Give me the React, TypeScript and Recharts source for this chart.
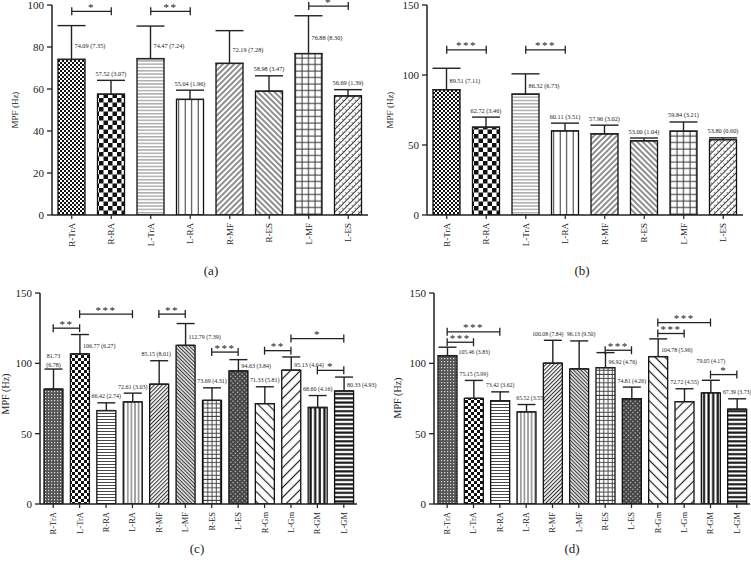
import React from "react";
import { BarChart, Bar, XAxis, YAxis, ErrorBar, Cell, LabelList, ReferenceLine } from "recharts";

const FONT = '"Liberation Serif", "Times New Roman", serif';
const INK = "#222";

// panels (a) and (b)
const musclesAB = ["R-TrA", "R-RA", "L-TrA", "L-RA", "R-MF", "R-ES", "L-MF", "L-ES"];
const meanA = [74.09, 57.52, 74.47, 55.04, 72.19, 58.98, 76.88, 56.69];
const sdA = [7.35, 3.07, 7.24, 1.96, 7.28, 3.47, 8.3, 1.39];
const whiskerA = [16.1, 6.6, 15.5, 4.4, 15.6, 7.3, 18.0, 3.0];
const meanB = [89.51, 62.72, 86.32, 60.11, 57.96, 53.0, 59.84, 53.8];
const sdB = [7.11, 3.46, 6.73, 3.51, 3.02, 1.04, 3.21, 0.6];
const whiskerB = [15.3, 7.2, 14.5, 5.5, 6.2, 2.0, 6.6, 1.3];

// panels (c) and (d)
const musclesCD = ["R-TrA", "L-TrA", "R-RA", "L-RA", "R-MF", "L-MF", "R-ES", "L-ES", "R-Gm", "L-Gm", "R-GM", "L-GM"];
const meanC = [81.73, 106.77, 66.42, 72.61, 85.15, 112.79, 73.69, 94.63, 71.33, 95.13, 68.6, 80.33];
const sdC = [6.78, 6.27, 2.74, 3.03, 8.01, 7.39, 4.31, 3.84, 5.81, 4.64, 4.16, 4.93];
const whiskerC = [14.2, 13.7, 5.5, 6.2, 16.7, 15.5, 8.9, 8.0, 12.0, 9.4, 8.5, 9.9];
const meanD = [105.46, 75.15, 73.42, 65.52, 100.08, 96.13, 96.92, 74.81, 104.78, 72.72, 79.05, 67.39];
const sdD = [3.83, 5.99, 3.62, 3.55, 7.84, 9.5, 4.76, 4.26, 5.96, 4.55, 4.17, 3.73];
const whiskerD = [6.0, 12.7, 6.3, 5.2, 16.3, 19.8, 10.7, 8.3, 12.6, 9.2, 8.9, 7.4];

const ticksA = [0, 20, 40, 60, 80, 100];
const ticks150 = [0, 50, 100, 150];

// significance brackets: [from, to, level, stars]
const sigA: [string, string, number, string][] = [
  ["R-TrA", "R-RA", 97, "*"],
  ["L-TrA", "L-RA", 97, "**"],
  ["L-MF", "L-ES", 99.5, "*"],
];
const sigB: [string, string, number, string][] = [
  ["R-TrA", "R-RA", 118, "***"],
  ["L-TrA", "L-RA", 118, "***"],
];
const sigC: [string, string, number, string][] = [
  ["R-TrA", "L-TrA", 125, "**"],
  ["L-TrA", "L-RA", 135, "***"],
  ["R-MF", "L-MF", 135, "**"],
  ["R-ES", "L-ES", 108, "***"],
  ["R-Gm", "L-Gm", 109, "**"],
  ["L-Gm", "L-GM", 117.6, "*"],
  ["R-GM", "L-GM", 95, "*"],
];
const sigD: [string, string, number, string][] = [
  ["R-TrA", "L-TrA", 115, "***"],
  ["R-TrA", "R-RA", 122.4, "***"],
  ["R-ES", "L-ES", 109.3, "***"],
  ["R-Gm", "L-Gm", 121.2, "***"],
  ["R-Gm", "R-GM", 129, "***"],
  ["R-GM", "L-GM", 92, "*"],
];

// where the "mean (sd)" text sits: r = right of whisker, t = above (optional x nudge),
// w = above on two lines, u = high above (clear of a bracket)
const sideA = ["r", "t", "r", "t", "r", "t", "r", "t"];
const sideB = ["r", "t", "r", "t", "t", "t", "t", "t"];
const sideC = ["w", "r", "t", "t", "t-3", "r", "t", "r", "t", "r", "t", "r"];
const sideD = ["r+8", "t", "t", "t+4", "t-5", "t+2", "r", "t", "r", "t", "u", "t"];

const fillsAB = ["fineCheck", "bigCheck", "hLines", "vLines", "diagR", "diagL", "grid", "zig"];
const fillsCD = ["fineCheck", "check", "hLines", "vLines", "diagR", "diagL", "grid", "zig", "sparseL", "sparseR", "thickV", "thickH"];

const makeRows = (names: string[], means: number[], sds: number[], whiskers: number[]) =>
  names.map((name, i) => ({ name, mean: means[i], sd: sds[i], err: [0, whiskers[i]] }));

const bg = (w: number, h: number) => <rect width={w} height={h} fill="#fff" />;

const DefsAB = ({ p }: { p: string }) => (
  <defs>
    <pattern id={`${p}-fineCheck`} width={4} height={4} patternUnits="userSpaceOnUse">
      {bg(4, 4)}
      <rect width={2} height={2} fill="#111" />
      <rect x={2} y={2} width={2} height={2} fill="#111" />
    </pattern>
    <pattern id={`${p}-bigCheck`} width={9} height={9} patternUnits="userSpaceOnUse">
      {bg(9, 9)}
      <rect width={4.5} height={4.5} fill="#111" />
      <rect x={4.5} y={4.5} width={4.5} height={4.5} fill="#111" />
    </pattern>
    <pattern id={`${p}-hLines`} width={6} height={3.3} patternUnits="userSpaceOnUse">
      {bg(6, 3.3)}
      <line x1={0} y1={1.6} x2={6} y2={1.6} stroke="#777" strokeWidth={0.9} />
    </pattern>
    <pattern id={`${p}-vLines`} width={6.5} height={6} patternUnits="userSpaceOnUse">
      {bg(6.5, 6)}
      <line x1={3.2} y1={0} x2={3.2} y2={6} stroke="#333" strokeWidth={1} />
    </pattern>
    <pattern id={`${p}-diagR`} width={4} height={4} patternUnits="userSpaceOnUse" patternTransform="rotate(45)">
      {bg(4, 4)}
      <line x1={2} y1={0} x2={2} y2={4} stroke="#333" strokeWidth={1.1} />
    </pattern>
    <pattern id={`${p}-diagL`} width={4} height={4} patternUnits="userSpaceOnUse" patternTransform="rotate(-45)">
      {bg(4, 4)}
      <line x1={2} y1={0} x2={2} y2={4} stroke="#333" strokeWidth={1.1} />
    </pattern>
    <pattern id={`${p}-grid`} width={6.5} height={6.5} patternUnits="userSpaceOnUse">
      {bg(6.5, 6.5)}
      <line x1={3} y1={0} x2={3} y2={6.5} stroke="#333" strokeWidth={1} />
      <line x1={0} y1={3} x2={6.5} y2={3} stroke="#333" strokeWidth={1} />
    </pattern>
    <pattern id={`${p}-zig`} width={4.5} height={4.5} patternUnits="userSpaceOnUse" patternTransform="rotate(45)">
      {bg(4.5, 4.5)}
      <line x1={2.2} y1={0} x2={2.2} y2={4.5} stroke="#333" strokeWidth={1} />
      <line x1={0} y1={2.2} x2={2.2} y2={2.2} stroke="#666" strokeWidth={0.8} />
    </pattern>
  </defs>
);

const DefsCD = ({ p }: { p: string }) => (
  <defs>
    <pattern id={`${p}-fineCheck`} width={3} height={3} patternUnits="userSpaceOnUse">
      <rect width={3} height={3} fill="#555" />
      <rect width={1.2} height={1.2} fill="#ddd" />
    </pattern>
    <pattern id={`${p}-check`} width={6} height={6} patternUnits="userSpaceOnUse">
      {bg(6, 6)}
      <rect width={3} height={3} fill="#111" />
      <rect x={3} y={3} width={3} height={3} fill="#111" />
    </pattern>
    <pattern id={`${p}-hLines`} width={6} height={3} patternUnits="userSpaceOnUse">
      {bg(6, 3)}
      <line x1={0} y1={1.5} x2={6} y2={1.5} stroke="#333" strokeWidth={0.9} />
    </pattern>
    <pattern id={`${p}-vLines`} width={3.6} height={6} patternUnits="userSpaceOnUse">
      {bg(3.6, 6)}
      <line x1={1.8} y1={0} x2={1.8} y2={6} stroke="#333" strokeWidth={0.9} />
    </pattern>
    <pattern id={`${p}-diagR`} width={2.8} height={2.8} patternUnits="userSpaceOnUse" patternTransform="rotate(45)">
      {bg(2.8, 2.8)}
      <line x1={1.4} y1={0} x2={1.4} y2={2.8} stroke="#333" strokeWidth={1.1} />
    </pattern>
    <pattern id={`${p}-diagL`} width={2.6} height={2.6} patternUnits="userSpaceOnUse" patternTransform="rotate(-45)">
      {bg(2.6, 2.6)}
      <line x1={1.3} y1={0} x2={1.3} y2={2.6} stroke="#333" strokeWidth={1.2} />
    </pattern>
    <pattern id={`${p}-grid`} width={4.2} height={4.2} patternUnits="userSpaceOnUse">
      {bg(4.2, 4.2)}
      <line x1={2} y1={0} x2={2} y2={4.2} stroke="#333" strokeWidth={0.9} />
      <line x1={0} y1={2} x2={4.2} y2={2} stroke="#333" strokeWidth={0.9} />
    </pattern>
    <pattern id={`${p}-zig`} width={3.2} height={3.2} patternUnits="userSpaceOnUse" patternTransform="rotate(45)">
      <rect width={3.2} height={3.2} fill="#444" />
      <rect x={0.4} y={0.4} width={1.1} height={1.1} fill="#eee" />
    </pattern>
    <pattern id={`${p}-sparseL`} width={7} height={7} patternUnits="userSpaceOnUse" patternTransform="rotate(-45)">
      {bg(7, 7)}
      <line x1={3.5} y1={0} x2={3.5} y2={7} stroke="#222" strokeWidth={1.2} />
    </pattern>
    <pattern id={`${p}-sparseR`} width={7} height={7} patternUnits="userSpaceOnUse" patternTransform="rotate(45)">
      {bg(7, 7)}
      <line x1={3.5} y1={0} x2={3.5} y2={7} stroke="#222" strokeWidth={1.2} />
    </pattern>
    <pattern id={`${p}-thickV`} width={4.6} height={6} patternUnits="userSpaceOnUse">
      {bg(4.6, 6)}
      <rect x={1.3} width={2.2} height={6} fill="#111" />
    </pattern>
    <pattern id={`${p}-thickH`} width={6} height={4.3} patternUnits="userSpaceOnUse">
      {bg(6, 4.3)}
      <rect y={1.1} width={6} height={2.1} fill="#111" />
    </pattern>
  </defs>
);

const CatTick = (props: any) => {
  const { x, y, payload, fs } = props;
  return (
    <g transform={`translate(${x},${y})`}>
      <text transform="rotate(-90)" x={-2} y={0} dy="0.35em" textAnchor="end" fontSize={fs} fill={INK} fontFamily={FONT}>
        {payload.value}
      </text>
    </g>
  );
};

const bracketShape = (stars: string) => (p: any) => {
  const { x1, x2, y1 } = p;
  return (
    <g>
      <line x1={x1} y1={y1} x2={x2} y2={y1} stroke={INK} strokeWidth={1.3} />
      <line x1={x1} y1={y1 - 4} x2={x1} y2={y1 + 4} stroke={INK} strokeWidth={1.3} />
      <line x1={x2} y1={y1 - 4} x2={x2} y2={y1 + 4} stroke={INK} strokeWidth={1.3} />
      <text x={(x1 + x2) / 2} y={y1 - 0.5} textAnchor="middle" fontSize={11} fontFamily={FONT} fill={INK} letterSpacing={1.5}>
        {stars}
      </text>
    </g>
  );
};

const makeLabel = (rows: any[], sides: string[], fs: number) => (props: any) => {
  const vb = props.viewBox ?? props;
  const { x, y, width, height } = vb;
  let i = props.index;
  if (i === undefined || !rows[i]) i = rows.findIndex((r) => r.mean === Number(props.value));
  const r = rows[i];
  if (!r) return null;
  const ppu = height / r.mean;
  const cx = x + width / 2;
  const top = y - r.err[1] * ppu;
  const a = r.mean.toFixed(2);
  const b = `(${r.sd.toFixed(2)})`;
  const common = { fontSize: fs, fill: INK, fontFamily: FONT };
  const side = sides[i];
  const mode = side[0];
  const nudge = parseFloat(side.slice(1)) || 0;
  if (mode === "r") {
    return (
      <text x={cx + 3 + nudge} y={y - 0.4 * (y - top) + 2} {...common}>
        {`${a} ${b}`}
      </text>
    );
  }
  if (mode === "w") {
    return (
      <text x={cx} y={top - 11} textAnchor="middle" {...common}>
        <tspan x={cx}>{a}</tspan>
        <tspan x={cx} dy={8.5}>{b}</tspan>
      </text>
    );
  }
  if (mode === "u") {
    return (
      <text x={cx} y={top - 17} textAnchor="middle" {...common}>
        {`${a} ${b}`}
      </text>
    );
  }
  return (
    <text x={cx + nudge} y={top - 4.5} textAnchor="middle" {...common}>
      {`${a} ${b}`}
    </text>
  );
};

type PanelProps = {
  id: string;
  left: number;
  top: number;
  width: number;
  height: number;
  margin: { top: number; right: number; bottom: number; left: number };
  rows: any[];
  fills: string[];
  sides: string[];
  sig: [string, string, number, string][];
  domain: [number, number];
  ticks: number[];
  yWidth: number;
  barSize: number;
  cap: number;
  catFont: number;
  valFont: number;
  big: boolean;
};

const Panel = (pp: PanelProps) => (
  <div style={{ position: "absolute", left: pp.left, top: pp.top }}>
    <BarChart width={pp.width} height={pp.height} data={pp.rows} margin={pp.margin}>
      {pp.big ? <DefsAB p={pp.id} /> : <DefsCD p={pp.id} />}
      <XAxis
        dataKey="name"
        interval={0}
        height={30}
        tickSize={4}
        tickMargin={2}
        axisLine={{ stroke: INK, strokeWidth: 1.5 }}
        tickLine={{ stroke: INK, strokeWidth: 1.2 }}
        tick={(t: any) => <CatTick {...t} fs={pp.catFont} />}
      />
      <YAxis
        domain={pp.domain}
        ticks={pp.ticks}
        allowDataOverflow
        width={pp.yWidth}
        tickSize={5}
        tickMargin={3}
        axisLine={{ stroke: INK, strokeWidth: 1.5 }}
        tickLine={{ stroke: INK, strokeWidth: 1.3 }}
        tick={{ fontSize: 11, fill: INK, fontFamily: FONT }}
      />
      <Bar dataKey="mean" barSize={pp.barSize} stroke="#111" strokeWidth={1.3} isAnimationActive={false}>
        {pp.rows.map((r, i) => (
          <Cell key={r.name} fill={`url(#${pp.id}-${pp.fills[i]})`} />
        ))}
        <ErrorBar dataKey="err" direction="y" width={pp.cap} stroke={INK} strokeWidth={1.4} />
        <LabelList dataKey="mean" content={makeLabel(pp.rows, pp.sides, pp.valFont)} />
      </Bar>
      {pp.sig.map((s, i) => (
        <ReferenceLine
          key={i}
          segment={[
            { x: s[0], y: s[2] },
            { x: s[1], y: s[2] },
          ]}
          ifOverflow="visible"
          shape={bracketShape(s[3])}
        />
      ))}
    </BarChart>
  </div>
);

const TextAt = ({ x, y, size, rotate, children }: any) => (
  <div
    style={{
      position: "absolute",
      left: x,
      top: y,
      transform: `translate(-50%, -50%)${rotate ? " rotate(-90deg)" : ""}`,
      fontFamily: FONT,
      fontSize: size,
      color: INK,
      whiteSpace: "nowrap",
      lineHeight: 1,
    }}
  >
    {children}
  </div>
);

export default function App() {
  const rowsA = makeRows(musclesAB, meanA, sdA, whiskerA);
  const rowsB = makeRows(musclesAB, meanB, sdB, whiskerB);
  const rowsC = makeRows(musclesCD, meanC, sdC, whiskerC);
  const rowsD = makeRows(musclesCD, meanD, sdD, whiskerD);
  return (
    <div style={{ position: "absolute", left: 0, top: 0, width: 751, height: 575, background: "#fff", overflow: "hidden" }}>
      <Panel
        id="pa" left={0} top={-10} width={375} height={290}
        margin={{ top: 15, right: 7, bottom: 35, left: 12 }}
        rows={rowsA} fills={fillsAB} sides={sideA} sig={sigA}
        domain={[0, 100]} ticks={ticksA} yWidth={40} barSize={27} cap={14} catFont={9} valFont={6.3} big
      />
      <Panel
        id="pb" left={375} top={-10} width={376} height={290}
        margin={{ top: 15, right: 8, bottom: 35, left: 12 }}
        rows={rowsB} fills={fillsAB} sides={sideB} sig={sigB}
        domain={[0, 150]} ticks={ticks150} yWidth={40} barSize={27} cap={14} catFont={9} valFont={6.3} big
      />
      <Panel
        id="pc" left={0} top={280} width={395} height={265}
        margin={{ top: 13, right: 38, bottom: 11, left: 10 }}
        rows={rowsC} fills={fillsCD} sides={sideC} sig={sigC}
        domain={[0, 150]} ticks={ticks150} yWidth={30} barSize={19} cap={9} catFont={8.5} valFont={6} big={false}
      />
      <Panel
        id="pd" left={375} top={280} width={376} height={265}
        margin={{ top: 13, right: 1, bottom: 11, left: 29 }}
        rows={rowsD} fills={fillsCD} sides={sideD} sig={sigD}
        domain={[0, 150]} ticks={ticks150} yWidth={30} barSize={19} cap={9} catFont={8.5} valFont={5.8} big={false}
      />
      <TextAt x={15} y={110} size={9} rotate>MPF (Hz)</TextAt>
      <TextAt x={390} y={110} size={9} rotate>MPF (Hz)</TextAt>
      <TextAt x={6} y={394} size={10} rotate>MPF (Hz)</TextAt>
      <TextAt x={398} y={398} size={10} rotate>MPF (Hz)</TextAt>
      <TextAt x={211} y={270} size={13}>(a)</TextAt>
      <TextAt x={582} y={270} size={13}>(b)</TextAt>
      <TextAt x={197} y={548} size={13}>(c)</TextAt>
      <TextAt x={572} y={548} size={13}>(d)</TextAt>
    </div>
  );
}
